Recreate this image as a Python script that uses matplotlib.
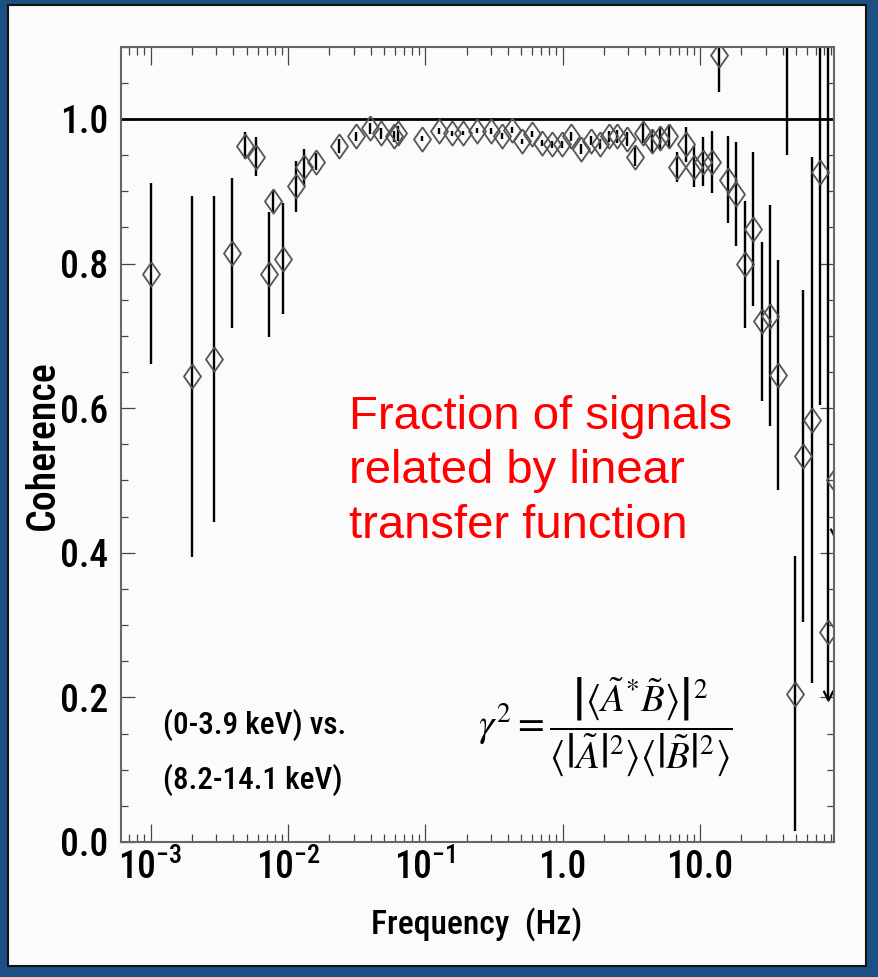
import os
import matplotlib
matplotlib.use("Agg")
import matplotlib.pyplot as plt
from matplotlib import font_manager
from matplotlib.font_manager import FontProperties
from matplotlib.patches import Rectangle
from matplotlib.ticker import FixedLocator, LogLocator, MultipleLocator, NullFormatter

# data
freq = [1.0e-3, 2.0e-3, 2.9e-3, 3.9e-3, 4.9e-3, 5.8e-3, 7.3e-3, 7.8e-3, 9.2e-3,
        1.14e-2, 1.31e-2, 1.60e-2, 2.35e-2, 3.13e-2, 3.95e-2, 4.75e-2, 5.91e-2, 6.32e-2,
        9.46e-2, 0.126, 0.156, 0.188, 0.238, 0.301, 0.362, 0.428, 0.507, 0.599, 0.708,
        0.838, 0.99, 1.15, 1.36, 1.61, 1.87, 2.18, 2.49, 2.95, 3.37, 3.85, 4.48, 5.12,
        5.96, 6.81, 7.93, 9.06, 10.5, 12.3, 13.8, 16.0, 18.3, 21.3, 24.4, 28.3, 32.4,
        37.1, 43.1, 49.3, 56.4, 65.6, 75.0, 85.9, 95.5]
coh = [0.786, 0.644, 0.668, 0.815, 0.963, 0.948, 0.785, 0.886, 0.807,
       0.907, 0.933, 0.941, 0.963, 0.976, 0.987, 0.980, 0.976, 0.980,
       0.973, 0.983, 0.980, 0.981, 0.984, 0.983, 0.976, 0.985, 0.969, 0.979, 0.967,
       0.965, 0.965, 0.976, 0.959, 0.970, 0.965, 0.976, 0.976, 0.972, 0.948, 0.981, 0.969, 0.974,
       0.976, 0.934, 0.965, 0.934, 0.941, 0.941, 1.089, 0.916, 0.896, 0.799, 0.848, 0.720, 0.728,
       0.646, 1.300, 0.205, 0.534, 0.584, 0.927, 0.290, 0.500]
err_lo = [0.125, 0.25, 0.225, 0.104, 0.019, 0.027, 0.087, 0.015, 0.077,
          0.035, 0.025, 0.012, 0.010, 0.006, 0.008, 0.008, 0.008, 0.010,
          0.004, 0.004, 0.003, 0.003, 0.003, 0.004, 0.004, 0.004, 0.004, 0.004, 0.004,
          0.005, 0.005, 0.006, 0.007, 0.006, 0.007, 0.008, 0.009, 0.010, 0.013, 0.014, 0.014, 0.015,
          0.016, 0.021, 0.024, 0.028, 0.034, 0.043, 0.052, 0.060, 0.072, 0.088, 0.107, 0.110, 0.153,
          0.159, 0.350, 0.190, 0.230, 0.364, 0.322, 0.093, 0.080]
err_hi = err_lo[:-2] + [1.0, 1.0]
# points whose lower bound is an upper limit (arrow)
limit_freq = [85.9, 95.5]
limit_val = [0.197, 0.42]

xticks = [1e-3, 1e-2, 1e-1, 1.0, 10.0]
xticklabels = [r'$\mathregular{10^{-3}}$', r'$\mathregular{10^{-2}}$',
               r'$\mathregular{10^{-1}}$', '1.0', '10.0']
yticks = [0.0, 0.2, 0.4, 0.6, 0.8, 1.0]
yticklabels = ['0.0', '0.2', '0.4', '0.6', '0.8', '1.0']


# narrow sans for the IDL-style labels, if one is installed
def find_narrow():
    wanted = ['robotocondensed-medium', 'notosans-condensedmedium',
              'liberationsansnarrow-regular', 'robotocondensed-regular',
              'notosans-condensed.', 'opensans-condensed', 'dejavusanscondensed.']
    files = [f.fname for f in font_manager.fontManager.ttflist]
    for key in wanted:
        for fn in files:
            if key in os.path.basename(fn).lower():
                return fn
    return None


narrow = find_narrow()


def lab_font(size):
    if narrow:
        return FontProperties(fname=narrow, size=size * 1.15)
    return FontProperties(family='Liberation Sans', size=size)


# slim open diamond, a bit wider than 'd'
diamond = [(0, 1), (0.7, 0), (0, -1), (-0.7, 0), (0, 1)]

fig = plt.figure(figsize=(8.79, 9.77), dpi=100, facecolor='#1c4f84')
fig.patches.append(Rectangle((0.0091, 0.0113), 0.976, 0.9836, transform=fig.transFigure,
                             facecolor='#fbfbfb', edgecolor='#111111', lw=1.5, zorder=-5))

ax = fig.add_axes([0.1373, 0.1382, 0.8118, 0.814])
ax.set_facecolor('#fbfbfb')
ax.set_xscale('log')
ax.set_xlim(6.05e-4, 95)
ax.set_ylim(0, 1.1)

ax.axhline(1.0, color='black', lw=2)
ax.errorbar(freq, coh, yerr=[err_lo, err_hi], fmt='none', ecolor='black', elinewidth=1.7, capsize=0)
ax.plot(freq, coh, ls='none', marker=diamond, ms=17.5, mfc='none', mec='#555555', mew=1.3)
ax.plot(limit_freq, limit_val, ls='none', marker=[(-0.5, 1), (0, 0), (0.5, 1)], ms=14,
        mfc='none', mec='black', mew=1.6)

ax.xaxis.set_major_locator(FixedLocator(xticks))
ax.set_xticklabels(xticklabels)
ax.xaxis.set_minor_locator(LogLocator(base=10, subs=range(2, 10), numticks=20))
ax.xaxis.set_minor_formatter(NullFormatter())
ax.yaxis.set_major_locator(FixedLocator(yticks))
ax.set_yticklabels(yticklabels)
ax.yaxis.set_minor_locator(MultipleLocator(0.05))

ax.tick_params(which='both', direction='in', top=True, right=True, colors='#444444', width=0.9,
               labelcolor='black')
ax.tick_params(axis='x', which='major', length=13, pad=5)
ax.tick_params(axis='x', which='minor', length=6)
ax.tick_params(axis='y', which='major', length=10, pad=9)
ax.tick_params(axis='y', which='minor', length=5)
for lab in ax.get_xticklabels() + ax.get_yticklabels():
    lab.set_fontproperties(lab_font(23.5))
for sp in ax.spines.values():
    sp.set_color('#666666')
    sp.set_linewidth(1.5)

fig.text(0.049, 0.5445, 'Coherence', rotation=90, ha='center', va='center',
         fontproperties=lab_font(25))
fig.text(0.5427, 0.0532, 'Frequency  (Hz)', ha='center', va='center',
         fontproperties=lab_font(21))

ax.text(0.32, 0.466, 'Fraction of signals\nrelated by linear\ntransfer function',
        transform=ax.transAxes, ha='left', va='center', color='#ff0000',
        fontfamily='Liberation Sans', fontsize=34, linespacing=1.31)
ax.text(0.059, 0.113, '(0-3.9 keV) vs.\n(8.2-14.1 keV)', transform=ax.transAxes,
        ha='left', va='center', fontproperties=lab_font(19.5), linespacing=1.9)
ax.text(0.679, 0.145,
        r'$\gamma^2 = \dfrac{\left|\left\langle\tilde{A}^{*}\tilde{B}\right\rangle\right|^2}'
        r'{\left\langle\left|\tilde{A}\right|^2\right\rangle\left\langle\left|\tilde{B}\right|^2\right\rangle}$',
        transform=ax.transAxes, ha='center', va='center', math_fontfamily='stix', fontsize=28)

fig.savefig('out.png', dpi=100, facecolor=fig.get_facecolor())
